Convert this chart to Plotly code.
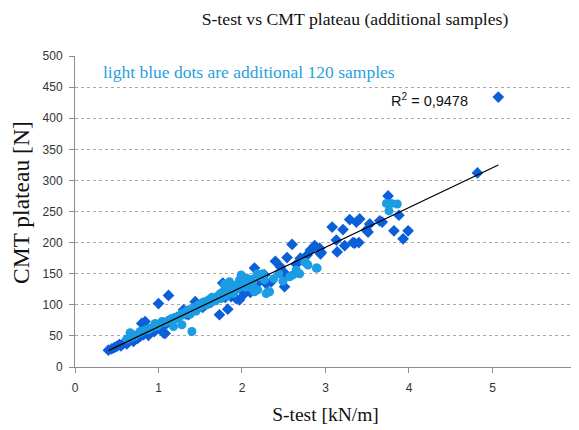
import numpy as np
import plotly.graph_objects as go

# Original samples (dark blue diamonds)
orig_x = [0.40, 0.44, 0.47, 0.50, 0.53, 0.55, 0.58, 0.60, 0.62, 0.65, 0.68, 0.70, 0.72, 0.75,
          0.78, 0.80, 0.84, 0.82, 0.86, 0.88, 0.90, 0.93, 0.95, 0.98, 1.00, 1.03, 1.06, 1.08,
          1.10, 1.12, 1.15, 1.18, 1.22, 1.26, 1.30, 1.33, 1.36, 1.40, 1.44, 1.47, 1.50, 1.53,
          1.56, 1.60, 1.63, 1.66, 1.70, 1.73, 1.77, 1.80, 1.83, 1.87, 1.90, 1.93, 1.97, 2.00,
          2.03, 2.06, 2.10, 2.15, 2.18, 2.22, 2.27, 2.29, 2.35, 2.40, 2.46, 2.51, 2.51, 2.54,
          2.60, 2.65, 2.70, 2.78, 2.82, 2.87, 2.93, 2.95, 2.94, 3.08, 3.13, 3.14, 3.21, 3.23,
          3.29, 3.33, 3.35, 3.37, 3.40, 3.41, 3.49, 3.51, 3.53, 3.65, 3.68, 3.75, 3.82, 3.88,
          3.93, 3.99, 4.82, 5.07]
orig_y = [27, 29, 31, 33, 36, 34, 38, 40, 37, 42, 45, 41, 47, 46,
          49, 70, 73, 52, 55, 51, 58, 60, 57, 63, 102, 65, 55, 54,
          70, 115, 74, 76, 80, 82, 92, 85, 84, 90, 105, 95, 98, 96,
          100, 103, 104, 108, 110, 84, 135, 112, 93, 113, 122, 110, 108, 125,
          118, 130, 120, 159, 134, 140, 148, 134, 137, 170, 161, 151, 129, 176,
          197, 165, 175, 180, 188, 195, 191, 184, 182, 225, 204, 185, 221, 195,
          237, 200, 199, 233, 200, 238, 220, 217, 230, 235, 233, 275, 219, 244,
          206, 219, 312, 434]

# Additional 120 samples (light blue dots)
add_x = [0.62, 0.66, 0.68, 0.70, 0.72, 0.78, 0.78, 0.82, 0.85, 0.88, 0.90, 0.93, 0.96, 0.98,
         1.00, 1.04, 1.06, 1.08, 1.12, 1.14, 1.16, 1.18, 1.20, 1.22, 1.25, 1.28, 1.28, 1.30,
         1.32, 1.34, 1.36, 1.38, 1.40, 1.42, 1.44, 1.45, 1.48, 1.50, 1.52, 1.54, 1.55, 1.58,
         1.60, 1.62, 1.64, 1.65, 1.68, 1.70, 1.72, 1.74, 1.75, 1.78, 1.79, 1.80, 1.82, 1.84,
         1.85, 1.85, 1.88, 1.90, 1.92, 1.93, 1.95, 1.97, 1.99, 2.00, 2.02, 2.04, 2.05, 2.08,
         2.10, 2.12, 2.13, 2.13, 2.15, 2.18, 2.19, 2.22, 2.25, 2.27, 2.29, 2.31, 2.33, 2.38,
         2.44, 2.49, 2.57, 2.61, 2.65, 2.69, 2.75, 2.77, 2.79, 2.89, 2.90, 3.73, 3.79, 3.86,
         3.76]
add_y = [45, 55, 48, 52, 50, 55, 57, 58, 60, 60, 62, 64, 70, 66,
         68, 73, 72, 72, 75, 76, 78, 65, 80, 78, 82, 86, 68, 84,
         88, 90, 92, 85, 57, 95, 96, 90, 100, 96, 103, 102, 105, 100,
         108, 104, 112, 110, 106, 112, 115, 118, 110, 122, 133, 118, 114, 128,
         137, 120, 124, 118, 130, 132, 126, 140, 148, 130, 135, 128, 143, 138,
         128, 141, 129, 137, 121, 150, 124, 145, 150, 140, 118, 121, 121, 142,
         150, 138, 145, 148, 156, 150, 169, 167, 164, 159, 159, 263, 263, 262,
         251]

x_ticks = [0, 1, 2, 3, 4, 5, 6]
y_ticks = [0, 50, 100, 150, 200, 250, 300, 350, 400, 450, 500]

# Linear trend line fitted on all samples
all_x = np.array(orig_x + add_x)
all_y = np.array(orig_y + add_y)
slope, intercept = np.polyfit(all_x, all_y, 1)
trend_x = np.array([min(orig_x), max(orig_x)])
trend_y = slope * trend_x + intercept

DARK = "#0b5fd9"
LIGHT = "#1c9ce2"
SERIF = "Liberation Serif, Times New Roman, serif"
SANS = "Liberation Sans, Arial, sans-serif"

# page body has an 8px margin, so the figure is 8px smaller each way
W, H = 571, 422

fig = go.Figure()
fig.add_trace(go.Scatter(x=orig_x, y=orig_y, mode="markers",
                         marker=dict(symbol="diamond", size=9, color=DARK, line=dict(width=0)),
                         showlegend=False))
fig.add_trace(go.Scatter(x=add_x, y=add_y, mode="markers",
                         marker=dict(symbol="circle", size=9, color=LIGHT, line=dict(width=0)),
                         showlegend=False))
fig.add_trace(go.Scatter(x=trend_x, y=trend_y, mode="lines",
                         line=dict(color="black", width=1.2), showlegend=False))

fig.update_layout(
    width=W, height=H,
    margin=dict(l=67, r=3, t=48, b=63),
    paper_bgcolor="white", plot_bgcolor="white",
    title=dict(text="S-test vs CMT plateau (additional samples)",
               x=347 / W, xanchor="center", y=1 - 11 / H, yanchor="middle",
               font=dict(family=SERIF, size=17.7, color="#111")),
    xaxis=dict(range=[0, 6.0005], tickvals=x_ticks, showgrid=False, zeroline=False,
               showline=True, linecolor="#8c8c8c", linewidth=1, automargin=False,
               ticks="outside", ticklen=5, tickcolor="#8c8c8c", ticklabeloverflow="allow",
               ticklabelstandoff=5,
               tickfont=dict(family=SANS, size=12, color="#333"),
               title=dict(text="S-test [kN/m]", standoff=12,
                          font=dict(family=SERIF, size=19.5, color="#111"))),
    yaxis=dict(range=[0, 500], tickvals=y_ticks, showgrid=True, gridcolor="#a8a8a8",
               griddash="dot", gridwidth=1, zeroline=False, automargin=False,
               showline=True, linecolor="#8c8c8c", linewidth=1,
               ticks="outside", ticklen=5, tickcolor="#8c8c8c",
               ticklabelstandoff=4,
               tickfont=dict(family=SANS, size=12, color="#333")),
    annotations=[
        dict(text="CMT plateau [N]", xref="paper", yref="paper", textangle=-90,
             x=(21 - 75) / 501, y=(367 - 203) / 311, xanchor="center", yanchor="middle",
             showarrow=False, font=dict(family=SERIF, size=23.5, color="#111")),
        dict(text="light blue dots are additional 120 samples", xref="paper", yref="paper",
             x=(101 - 75) / 501, y=(367 - 72) / 311, xanchor="left", yanchor="middle",
             showarrow=False, font=dict(family=SERIF, size=17.5, color="#2a9fdc")),
        dict(text="R<sup>2</sup> = 0,9478", xref="paper", yref="paper",
             x=(389 - 75) / 501, y=(367 - 100) / 311, xanchor="left", yanchor="middle",
             showarrow=False, font=dict(family=SANS, size=14.5, color="#111")),
    ],
)

fig.write_html("out.html")
